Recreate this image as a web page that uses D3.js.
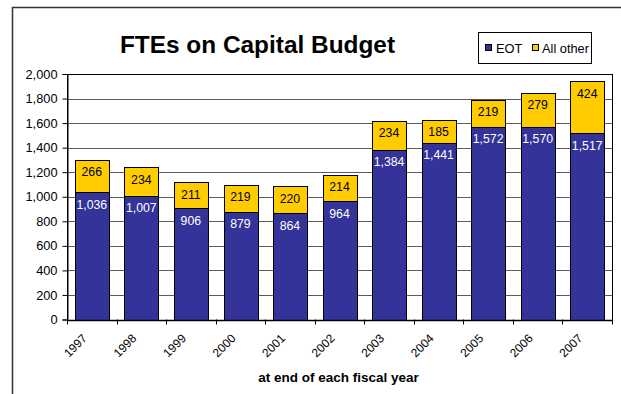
<!DOCTYPE html>
<html>
<head>
<meta charset="utf-8">
<script src="https://cdn.jsdelivr.net/npm/d3@7"></script>
<style>
  html, body { margin: 0; padding: 0; background: #fff; }
  svg { display: block; font-family: "Liberation Sans", Arial, sans-serif; }
</style>
</head>
<body>
<svg id="chart" width="621" height="394"></svg>
<script>
// Fiscal years and FTE counts, stacked: EOT at the bottom, all other on top
const years = ["1997", "1998", "1999", "2000", "2001", "2002", "2003", "2004", "2005", "2006", "2007"];
const eot = [1036, 1007, 906, 879, 864, 964, 1384, 1441, 1572, 1570, 1517];
const allOther = [266, 234, 211, 219, 220, 214, 234, 185, 219, 279, 424];
const seriesNames = ["EOT", "All other"];
const seriesColors = ["#333399", "#FFCC00"];
const yTicks = [0, 200, 400, 600, 800, 1000, 1200, 1400, 1600, 1800, 2000];

const svg = d3.select("#chart");
const plot = { left: 67, right: 612, top: 74, bottom: 319.5 };

// Outer chart frame (extends past the visible window on the right and bottom)
svg.append("rect")
  .attr("x", 12.5).attr("y", 7.5)
  .attr("width", 640).attr("height", 420)
  .attr("fill", "#fff")
  .attr("stroke", "#333").attr("stroke-width", 1.5);

const x = d3.scaleBand()
  .domain(years)
  .range([plot.left, plot.right])
  .paddingInner(0.32)
  .paddingOuter(0.16);

const y = d3.scaleLinear()
  .domain([0, 2000])
  .range([plot.bottom, plot.top]);

// Horizontal gridlines
svg.append("g")
  .selectAll("line")
  .data(yTicks.filter(t => t > 0 && t < 2000))
  .join("line")
  .attr("x1", plot.left).attr("x2", plot.right)
  .attr("y1", d => Math.round(y(d)) + 0.5).attr("y2", d => Math.round(y(d)) + 0.5)
  .attr("stroke", "#5a5a5a").attr("stroke-width", 1);

// Plot area border
svg.append("rect")
  .attr("x", plot.left + 0.5).attr("y", Math.round(plot.top) + 0.5)
  .attr("width", plot.right - plot.left)
  .attr("height", Math.round(plot.bottom) - Math.round(plot.top))
  .attr("fill", "none")
  .attr("stroke", "#000").attr("stroke-width", 1);

// Stack the two series
const table = years.map((yr, i) => ({ year: yr, EOT: eot[i], "All other": allOther[i] }));
const stacked = d3.stack().keys(seriesNames)(table);

const layers = svg.append("g")
  .selectAll("g")
  .data(stacked)
  .join("g")
  .attr("fill", (d, i) => seriesColors[i]);

layers.selectAll("rect")
  .data(d => d)
  .join("rect")
  .attr("x", d => Math.round(x(d.data.year)) + 0.5)
  .attr("width", Math.round(x.bandwidth()))
  .attr("y", d => Math.round(y(d[1])) + 0.5)
  .attr("height", d => Math.round(y(d[0])) - Math.round(y(d[1])))
  .attr("stroke", "#000").attr("stroke-width", 1);

// Value labels, placed just inside the top of each segment
const fmt = d3.format(",");
layers.selectAll("text")
  .data((d, i) => d.map(v => ({ v, i })))
  .join("text")
  .attr("x", d => x(d.v.data.year) + x.bandwidth() / 2)
  .attr("y", d => y(d.v[1]) + 16.5)
  .attr("text-anchor", "middle")
  .attr("font-size", "12.3px")
  .attr("fill", d => d.i === 0 ? "#fff" : "#000")
  .text(d => fmt(d.v[1] - d.v[0]));

// Y axis
const yAxis = svg.append("g")
  .attr("transform", `translate(${plot.left + 0.5},0)`)
  .call(d3.axisLeft(y).tickValues(yTicks).tickFormat(fmt).tickSize(5).tickPadding(5));
yAxis.select(".domain").attr("stroke", "#000");
yAxis.selectAll(".tick line").attr("stroke", "#000");
yAxis.selectAll(".tick text")
  .attr("font-family", "Liberation Sans, Arial, sans-serif")
  .attr("font-size", "12.8px").attr("fill", "#000");

// X axis: tick marks sit on category boundaries
const xAxisG = svg.append("g");
xAxisG.append("line")
  .attr("x1", plot.left).attr("x2", plot.right + 1)
  .attr("y1", Math.round(plot.bottom) + 0.5).attr("y2", Math.round(plot.bottom) + 0.5)
  .attr("stroke", "#000").attr("stroke-width", 1.5);
const step = x.step();
const boundaries = years.map(yr => x(yr) - x.paddingInner() * step / 2).concat([plot.right]);
xAxisG.selectAll("line.tk")
  .data(boundaries)
  .join("line")
  .attr("class", "tk")
  .attr("x1", d => Math.round(d) + 0.5).attr("x2", d => Math.round(d) + 0.5)
  .attr("y1", plot.bottom).attr("y2", plot.bottom + 5)
  .attr("stroke", "#000");
xAxisG.selectAll("text")
  .data(years)
  .join("text")
  .attr("transform", d => `translate(${x(d) + x.bandwidth() / 2 - 4},${339}) rotate(-45)`)
  .attr("text-anchor", "end")
  .attr("font-size", "12px")
  .attr("fill", "#000")
  .text(d => d);

// Axis title
svg.append("text")
  .attr("x", 338.5)
  .attr("y", 381.5)
  .attr("text-anchor", "middle")
  .attr("font-size", "13.5px")
  .attr("font-weight", "bold")
  .text("at end of each fiscal year");

// Chart title
svg.append("text")
  .attr("x", 257.5)
  .attr("y", 53)
  .attr("text-anchor", "middle")
  .attr("font-size", "24.4px")
  .attr("font-weight", "bold")
  .text("FTEs on Capital Budget");

// Legend
const legend = svg.append("g");
legend.append("rect")
  .attr("x", 478.5).attr("y", 32.5).attr("width", 113).attr("height", 31)
  .attr("fill", "#fff").attr("stroke", "#000");
const legendX = [485, 532];
const legendItems = legend.selectAll("g.item")
  .data(seriesNames)
  .join("g")
  .attr("class", "item")
  .attr("transform", (d, i) => `translate(${legendX[i]},0)`);
legendItems.append("rect")
  .attr("x", 0.5).attr("y", 44.5).attr("width", 6).attr("height", 6)
  .attr("fill", (d, i) => seriesColors[i]).attr("stroke", "#000");
legendItems.append("text")
  .attr("x", (d, i) => i === 0 ? 11 : 10).attr("y", 52.5)
  .attr("font-size", "12.8px")
  .attr("fill", "#000")
  .text(d => d);
</script>
</body>
</html>
